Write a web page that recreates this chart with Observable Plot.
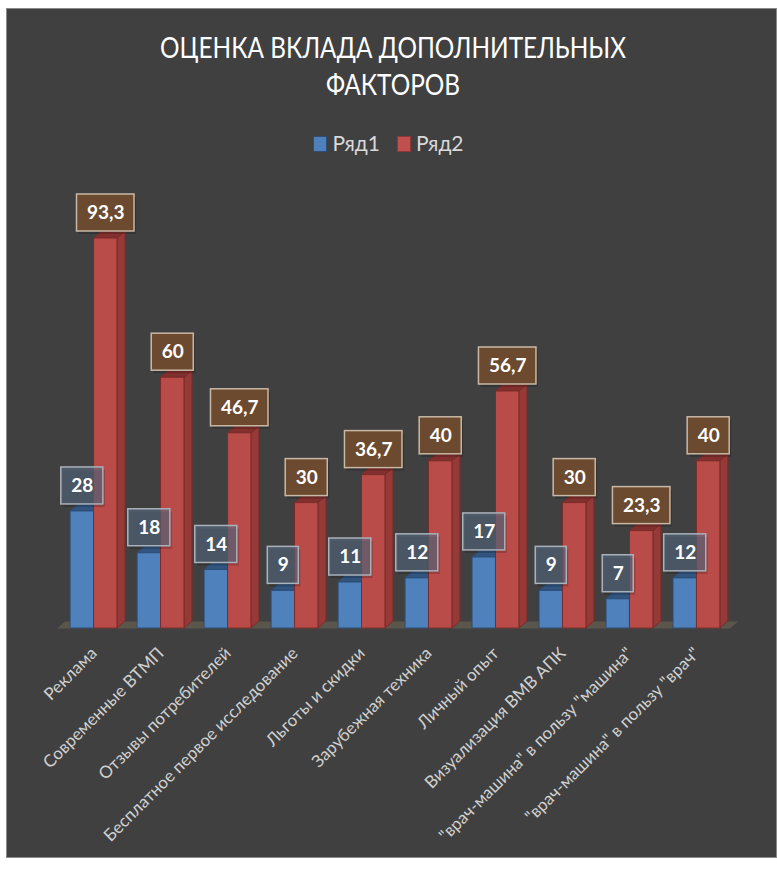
<!DOCTYPE html>
<html><head><meta charset="utf-8">
<script src="https://cdn.jsdelivr.net/npm/d3@7"></script>
<script src="https://cdn.jsdelivr.net/npm/@observablehq/plot@0.6"></script>
<style>
body{margin:0;background:#fff;width:777px;height:870px;position:relative;overflow:hidden;font-family:Lato,"Open Sans",sans-serif;}
#frame{position:absolute;left:6px;top:8px;width:769px;height:848px;background:#404040;border:1px solid #8a8a8a;}
#title{position:absolute;left:6px;width:771px;top:29px;text-align:center;color:#fff;font-size:28px;line-height:37px;transform:scaleX(0.87);transform-origin:397px 0;}
#legend{position:absolute;left:0;width:777px;top:130px;text-align:center;color:#d9d9d9;font-size:21px;line-height:26px;}
.sw{display:inline-block;width:12px;height:14px;margin-right:5px;vertical-align:-1px;border:1px solid}
#chart{position:absolute;left:0;top:160px;}
</style></head>
<body>
<div id="frame"></div>
<div id="title">ОЦЕНКА ВКЛАДА ДОПОЛНИТЕЛЬНЫХ<br>ФАКТОРОВ</div>
<div id="legend"></div>
<div id="chart"></div>
<script>
const categories = ["Реклама", "Современные ВТМП", "Отзывы потребителей", "Бесплатное первое исследование", "Льготы и скидки", "Зарубежная техника", "Личный опыт", "Визуализация ВМВ АПК", "\"врач-машина\" в пользу \"машина\"", "\"врач-машина\" в пользу \"врач\""];
const series1 = [28, 18, 14, 9, 11, 12, 17, 9, 7, 12];
const series2 = [93.3, 60, 46.7, 30, 36.7, 40, 56.7, 30, 23.3, 40];
const seriesNames = ["Ряд1", "Ряд2"];
const seriesColors = ["#4f81bd", "#c0504d"];

const rows1 = categories.map((cat, i) => ({cat, value: series1[i], series: seriesNames[0]}));
const rows2 = categories.map((cat, i) => ({cat, value: series2[i], series: seriesNames[1]}));

// legend
const legend = document.getElementById("legend");
legend.innerHTML = seriesNames.map((n, i) =>
  `<span class="sw" style="background:${seriesColors[i]};border-color:${i ? "#8c3836" : "#2c4d75"}"></span>${n}`
).join('<span style="display:inline-block;width:17px"></span>');

const W = 777, H = 700, ML = 50, MR = 37, MT = 50, MB = 232;
const PI = 0.3, PO = 0.3;
const step = (W - ML - MR) / (categories.length - PI + 2 * PO);
const bw = step * (1 - PI);
const half = bw / 2;
const D = 8, DY = 7;
const fmt = v => String(v).replace(".", ",");

const NS = "http://www.w3.org/2000/svg";
function el(tag, attrs) {
  const e = document.createElementNS(NS, tag);
  for (const k in attrs) e.setAttribute(k, attrs[k]);
  return e;
}
function poly(g, pts, fill, stroke) {
  g.appendChild(el("polygon", {points: pts.map(p => p.join(",")).join(" "), fill, stroke: stroke || "none", "stroke-width": 1, "stroke-linejoin": "round"}));
}

function floorMark(I, scales) {
  const g = el("g", {});
  const [r0, r1] = scales.x.range();
  const y0 = scales.y(0) + 0.5;
  poly(g, [[r0 + 7, y0], [r0 + 7 + D, y0 - DY], [r1 - 10 + D, y0 - DY], [r1 - 10, y0]], "#5b564b");
  return g;
}

function faces(rows, isLeft, sideColor, topColor, stroke) {
  return (I, scales) => {
    const g = el("g", {});
    const b = scales.x.bandwidth ? scales.x.bandwidth() : bw;
    for (const d of rows) {
      const xb = scales.x(d.cat);
      const x0 = isLeft ? xb : xb + b / 2;
      const x1 = isLeft ? xb + b / 2 : xb + b;
      const yt = scales.y(d.value), yb = scales.y(0);
      poly(g, [[x1, yb], [x1 + D, yb - DY], [x1 + D, yt - DY], [x1, yt]], sideColor, stroke);
      poly(g, [[x0, yt], [x0 + D, yt - DY], [x1 + D, yt - DY], [x1, yt]], topColor, stroke);
    }
    return g;
  };
}

const cnv = document.createElement("canvas").getContext("2d");
cnv.font = "bold 19px Lato";
function boxes(rows, isLeft, fill, stroke) {
  return (I, scales) => {
    const g = el("g", {});
    const b = scales.x.bandwidth ? scales.x.bandwidth() : bw;
    for (const d of rows) {
      const cx = scales.x(d.cat) + (isLeft ? 0.25 : 0.75) * b;
      const w = cnv.measureText(fmt(d.value)).width + 20;
      const yb = scales.y(d.value) - 7;
      g.appendChild(el("rect", {x: cx - w / 2 + 2, y: yb - 37 + 3, width: w, height: 37, fill: "rgba(0,0,0,0.18)"}));
      g.appendChild(el("rect", {x: cx - w / 2, y: yb - 37, width: w, height: 37, fill, stroke, "stroke-width": 1.5}));
    }
    return g;
  };
}

const textOpts = (isLeft) => ({
  x: "cat", y: "value", text: d => fmt(d.value),
  dx: isLeft ? -bw / 4 : bw / 4, dy: -7 - 18.5,
  fill: "#ffffff", fontWeight: "bold", fontSize: 19, fontFamily: "Lato"
});

const chart = Plot.plot({
  width: W, height: H,
  marginLeft: ML, marginRight: MR, marginTop: MT, marginBottom: MB,
  style: {background: "transparent", color: "#d0d0d0", fontSize: "17px", fontFamily: "Lato, 'Open Sans', sans-serif", overflow: "visible"},
  x: {type: "band", domain: categories, paddingInner: PI, paddingOuter: PO, round: false, label: null, tickRotate: -45, tickSize: 0, tickPadding: 22},
  y: {domain: [0, 100], axis: null},
  marks: [
    floorMark,
    faces(rows1, true, "#3a6394", "#31557f", "#2c4d75"),
    Plot.barY(rows1, {x: "cat", y: "value", fill: seriesColors[0], stroke: "#2c4d75", strokeWidth: 1, insetRight: half}),
    faces(rows2, false, "#963a38", "#82302e", "#7a2c2a"),
    Plot.barY(rows2, {x: "cat", y: "value", fill: "#b94b49", stroke: "#7a2c2a", strokeWidth: 1, insetLeft: half}),
    boxes(rows1, true, "rgba(88,108,130,0.62)", "#a9b1ba"),
    Plot.text(rows1, textOpts(true)),
    boxes(rows2, false, "#6b4a30", "#c9b8a6"),
    Plot.text(rows2, textOpts(false))
  ]
});
document.getElementById("chart").appendChild(chart);
</script>
</body></html>
